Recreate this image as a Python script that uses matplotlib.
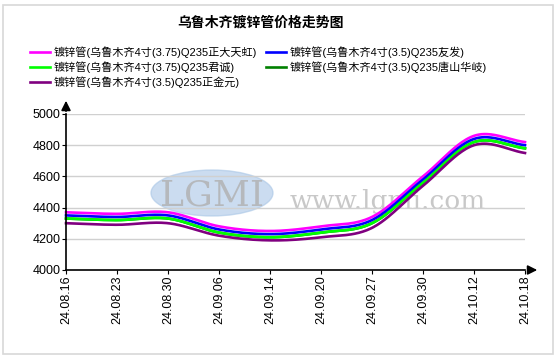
import numpy as np
import matplotlib
matplotlib.use("Agg")
import matplotlib.pyplot as plt
from matplotlib.patches import Ellipse, Rectangle

plt.rcParams['font.family'] = ['Liberation Sans', 'Noto Sans CJK SC', 'DejaVu Sans']

dates = ["24.08.16", "24.08.23", "24.08.30", "24.09.06", "24.09.14",
         "24.09.20", "24.09.27", "24.09.30", "24.10.12", "24.10.18"]
names = ["镀锌管(乌鲁木齐4寸(3.75)Q235正大天虹)",
         "镀锌管(乌鲁木齐4寸(3.5)Q235友发)",
         "镀锌管(乌鲁木齐4寸(3.75)Q235君诚)",
         "镀锌管(乌鲁木齐4寸(3.5)Q235唐山华岐)",
         "镀锌管(乌鲁木齐4寸(3.5)Q235正金元)"]
zhengda = [4370, 4360, 4370, 4280, 4250, 4280, 4340, 4600, 4860, 4820]
youfa   = [4350, 4340, 4350, 4260, 4230, 4260, 4320, 4580, 4840, 4800]
juncheng = [4330, 4320, 4330, 4240, 4210, 4240, 4300, 4560, 4820, 4780]
tangshan = [4330, 4320, 4330, 4240, 4210, 4240, 4300, 4560, 4820, 4780]
zhengjin = [4300, 4290, 4300, 4220, 4190, 4210, 4270, 4540, 4800, 4750]
series = [zhengda, youfa, juncheng, tangshan, zhengjin]
colors = ["#ff00ff", "#0000ff", "#00ff00", "#008000", "#800080"]
yticks = [4000, 4200, 4400, 4600, 4800, 5000]

W, H = 558, 359
fig = plt.figure(figsize=(W / 100, H / 100), dpi=100)
fig.patch.set_facecolor("white")
fig.add_artist(Rectangle((3 / W, 1 - 354 / H), 550 / W, 349 / H, transform=fig.transFigure,
                         fill=False, edgecolor="#d8d8d8", lw=1.2))

L, R, T, B = 66, 525, 114, 270
ax = fig.add_axes([L / W, 1 - B / H, (R - L) / W, (B - T) / H])
ax.set_xlim(0, len(dates) - 1)
ax.set_ylim(4000, 5000)
for s in ["top", "right"]:
    ax.spines[s].set_visible(False)
for s in ["left", "bottom"]:
    ax.spines[s].set_color("black")
    ax.spines[s].set_linewidth(1.2)
ax.set_yticks(yticks)
ax.set_yticklabels([str(v) for v in yticks], fontsize=9)
x = np.arange(len(dates))
ax.set_xticks(x)
ax.set_xticklabels(dates, rotation=90, fontsize=9)
ax.tick_params(axis="both", length=3, width=0.8, color="black", pad=1)
ax.grid(axis="y", color="#d0d0d0", lw=1)
ax.set_axisbelow(True)

# arrows on axes
ax.annotate("", xy=(540 / W, 1 - B / H), xytext=(R / W, 1 - B / H), xycoords="figure fraction",
            arrowprops=dict(arrowstyle="-|>", color="black", lw=1.2, mutation_scale=14))
ax.annotate("", xy=(L / W, 1 - 98 / H), xytext=(L / W, 1 - T / H), xycoords="figure fraction",
            arrowprops=dict(arrowstyle="-|>", color="black", lw=1.2, mutation_scale=14))

# watermark
wm = fig.add_axes([0, 0, 1, 1], zorder=0.5)
wm.set_xlim(0, W); wm.set_ylim(H, 0); wm.axis("off")
wm.add_patch(Ellipse((212, 193), 122, 46, color="#a9c6e6", alpha=0.6))
wm.text(212, 195, "LGMI", fontsize=26, color="#b0b0b0", ha="center", va="center",
        family="DejaVu Serif", alpha=0.8)
wm.text(388, 201, "www.lgmi.com", fontsize=19, color="#c8c8c8", ha="center", va="center",
        family="DejaVu Serif")
ax.set_zorder(1)
ax.patch.set_alpha(0)


def smooth(y):
    y = np.asarray(y, float)
    n = len(y)
    m = np.zeros(n)
    m[1:-1] = (y[2:] - y[:-2]) / 2
    m[0] = y[1] - y[0]
    m[-1] = y[-1] - y[-2]
    xs, ys = [], []
    t = np.linspace(0, 1, 40)
    for i in range(n - 1):
        h00 = 2 * t**3 - 3 * t**2 + 1
        h10 = t**3 - 2 * t**2 + t
        h01 = -2 * t**3 + 3 * t**2
        h11 = t**3 - t**2
        xs.append(i + t)
        ys.append(h00 * y[i] + h10 * m[i] + h01 * y[i + 1] + h11 * m[i + 1])
    return np.concatenate(xs), np.concatenate(ys)


draw_order = [3, 0, 1, 2, 4]
handles = {}
for k in draw_order:
    sx, sy = smooth(series[k])
    ln, = ax.plot(sx, sy, color=colors[k], lw=1.9, label=names[k], clip_on=False)
    handles[k] = ln

fig.text(260 / W, 1 - 23 / H, "乌鲁木齐镀锌管价格走势图", ha="center", va="center",
         fontsize=10, fontweight="bold", family=["Noto Sans CJK SC"])

order = [0, 2, 4, 1, 3]
leg = fig.legend([handles[k] for k in order], [names[k] for k in order], ncol=2,
                 loc="upper left", bbox_to_anchor=(30 / W, 1 - 46.5 / H), frameon=False,
                 fontsize=8.0, handlelength=1.8, handletextpad=0.35, columnspacing=0.8,
                 labelspacing=0.28, borderaxespad=0, borderpad=0)
for t in leg.get_texts():
    t.set_family(["Liberation Sans", "Noto Sans CJK SC"])

fig.savefig("out.png", dpi=100)
